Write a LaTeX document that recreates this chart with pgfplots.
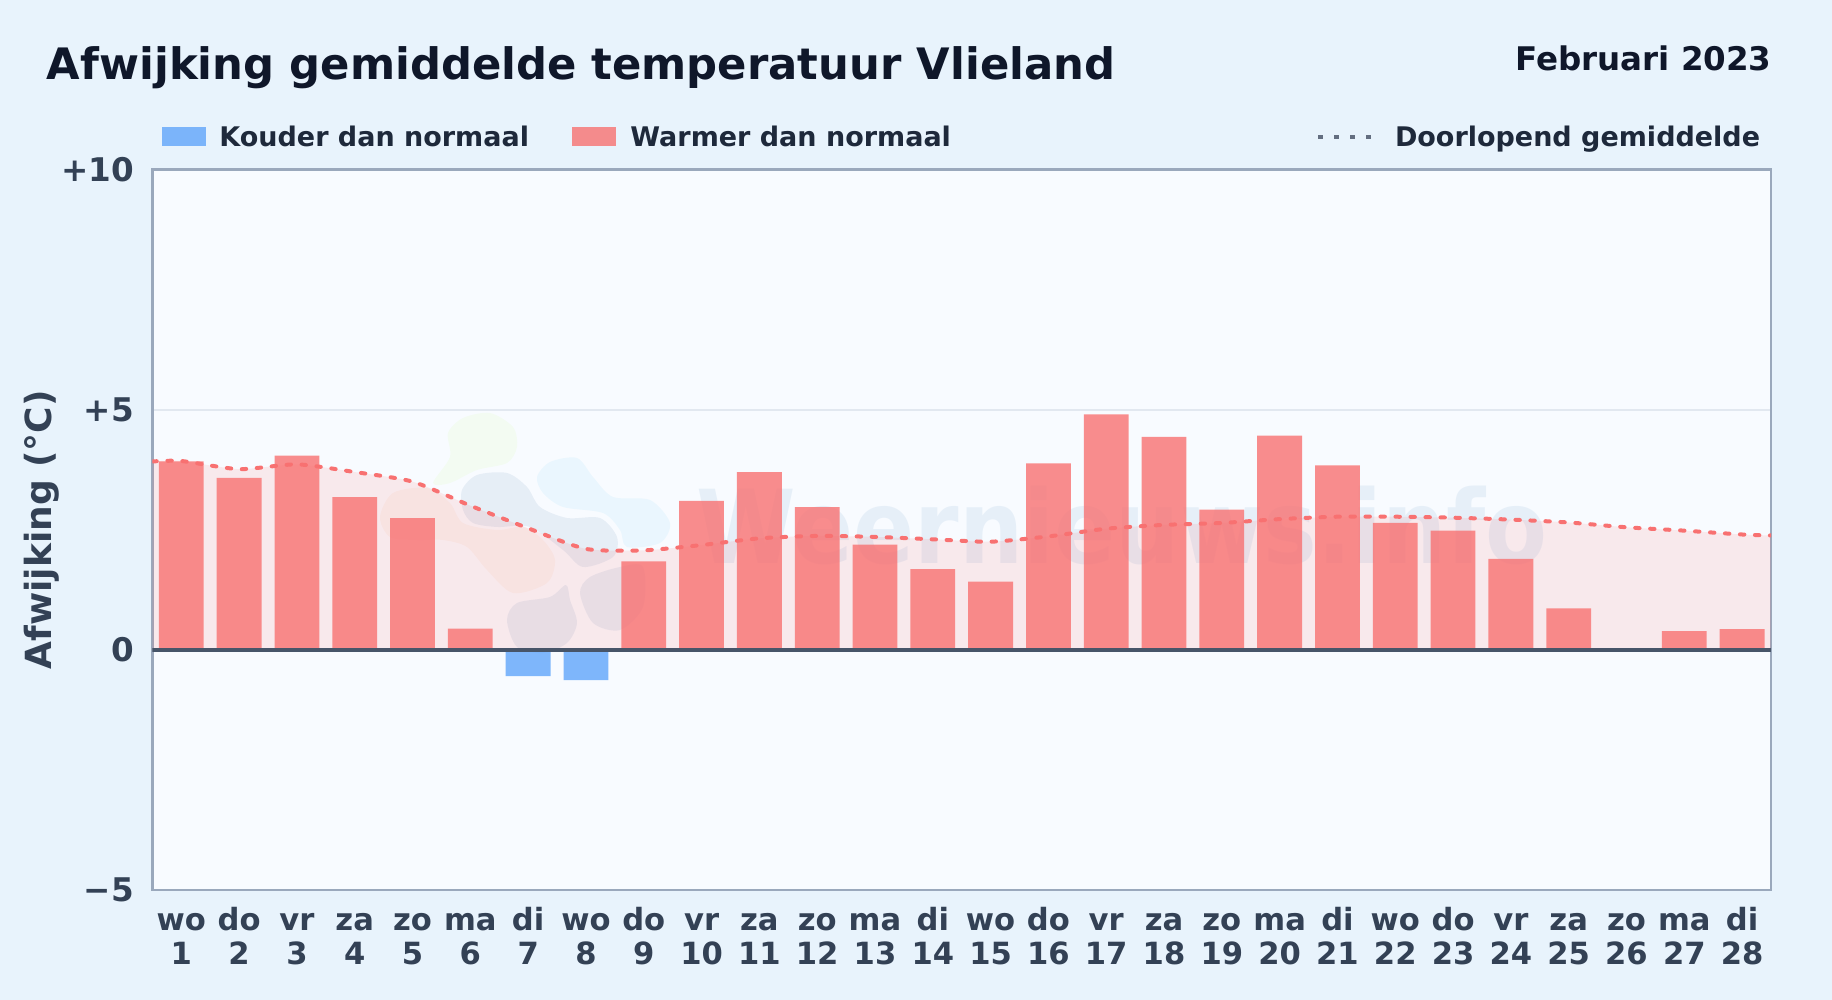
\documentclass[border=0pt]{standalone}
\usepackage{fontspec}
\setmainfont{DejaVu Sans}
\newfontfamily\wmfont[FakeStretch=0.885]{DejaVu Sans}
\usepackage{pgfplots}
\usepackage{pgfplotstable}
\pgfplotsset{compat=1.18}

\definecolor{pagebg}{HTML}{E8F3FC}
\definecolor{plotbg}{HTML}{F8FBFF}
\definecolor{titlecol}{HTML}{0F172A}
\definecolor{legendcol}{HTML}{1E293B}
\definecolor{tickcol}{HTML}{334155}
\definecolor{framecol}{HTML}{9AA8BC}
\definecolor{zerocol}{HTML}{475569}
\definecolor{gridcol}{HTML}{E2E8F0}
\definecolor{warm}{HTML}{F87171}
\definecolor{cold}{HTML}{60A5FA}
\definecolor{wmnavy}{HTML}{3A6EA5}
\definecolor{wmsky}{HTML}{38BDF8}
\definecolor{wmtext}{HTML}{3A7CBC}

\pgfplotstableread{
x y
1 3.92
2 3.58
3 4.04
4 3.18
5 2.74
6 0.44
9 1.84
10 3.10
11 3.70
12 2.97
13 2.19
14 1.68
15 1.42
16 3.88
17 4.90
18 4.43
19 2.92
20 4.46
21 3.84
22 2.64
23 2.48
24 1.89
25 0.86
26 0
27 0.39
28 0.43
}\warmdays

\pgfplotstableread{
x y
7 -0.55
8 -0.63
}\colddays

\pgfplotstableread{
x y
0.5 3.92
1 3.93
2 3.76
3 3.86
4 3.70
5 3.50
6 3.00
7 2.53
8 2.10
9 2.07
10 2.18
11 2.32
12 2.37
13 2.35
14 2.30
15 2.25
16 2.36
17 2.52
18 2.60
19 2.64
20 2.72
21 2.77
22 2.77
23 2.75
24 2.71
25 2.65
26 2.55
27 2.48
28 2.40
28.5 2.38
}\runmean

\newcommand{\bfsize}[1]{\fontsize{#1}{#1}\selectfont\bfseries}
\newcommand{\dl}[2]{\rule{0pt}{11.7pt}#1\\#2}

\begin{document}
\begin{tikzpicture}
\useasboundingbox (0,0) rectangle (916pt,500pt);
\fill[pagebg] (0,0) rectangle (916pt,500pt);

% everything here in reference pixels, origin top left
\begin{scope}[x=0.5pt,y=-0.5pt,yshift=500pt]
  \fill[plotbg] (152.4,169.4) rectangle (1771,890);
  % watermark logo and name
  \fill[green!40!yellow,opacity=.05] plot[smooth cycle] coordinates {(448,433)(463,418)(490,413)(513,427)(517,447)(507,463)(477,470)(450,483)(433,483)(450,457)};
  \fill[orange,opacity=.05] plot[smooth cycle] coordinates {(443,540)(467,547)(487,570)(513,593)(547,583)(555,560)(543,540)(523,527)(497,530)(463,523)(450,503)(427,488)(393,493)(380,517)(390,537)(417,540)};
  \fill[wmnavy,opacity=.09] plot[smooth cycle] coordinates {(462,490)(477,475)(507,473)(527,487)(540,507)(567,518)(600,518)(617,537)(613,557)(583,567)(563,550)(530,527)(497,527)(473,523)(463,510)};
  \fill[wmsky,opacity=.07] plot[smooth cycle] coordinates {(537,477)(550,462)(577,458)(593,477)(613,497)(650,500)(670,523)(660,543)(627,547)(620,530)(603,513)(563,507)(543,493)};
  \fill[wmnavy,opacity=.09] plot[smooth cycle] coordinates {(507,620)(517,603)(550,597)(566,585)(570,600)(577,623)(567,643)(543,653)(517,647)};
  \fill[wmnavy,opacity=.09] plot[smooth cycle] coordinates {(580,593)(590,577)(620,567)(643,567)(643,607)(620,630)(593,623)};
  \node[text=wmtext,opacity=.09,font=\wmfont\bfsize{51},anchor=base] at (1122,564) {Weernieuws.info};
  % title block
  \node[anchor=base west,inner sep=0pt,text=titlecol,font=\bfsize{21.66}] at (46.5,80) {Afwijking gemiddelde temperatuur Vlieland};
  \node[anchor=base east,inner sep=0pt,text=titlecol,font=\bfsize{16.26}] at (1772,71) {Februari 2023};
  % legend row
  \fill[cold,opacity=.8] (161.5,127) rectangle (205.5,146);
  \node[anchor=base west,inner sep=0pt,text=legendcol,font=\bfsize{13.5}] at (219,146.5) {Kouder dan normaal};
  \fill[warm,opacity=.8] (572,127) rectangle (616,146);
  \node[anchor=base west,inner sep=0pt,text=legendcol,font=\bfsize{13.5}] at (630,146.5) {Warmer dan normaal};
  \draw[zerocol!85,line width=2.2pt,dash pattern=on 2.5pt off 5.5pt] (1318,137) -- (1376,137);
  \node[anchor=base east,inner sep=0pt,text=legendcol,font=\bfsize{13.5}] at (1760.5,146.5) {Doorlopend gemiddelde};
\end{scope}

\begin{axis}[
    at={(76.2pt,55pt)},
    anchor=south west,
    scale only axis,
    width=809.3pt,
    height=360.3pt,
    xmin=0.5, xmax=28.5,
    ymin=-5, ymax=10,
    xtick={1,...,28},
    xticklabels={\dl{wo}{1},\dl{do}{2},\dl{vr}{3},\dl{za}{4},\dl{zo}{5},\dl{ma}{6},\dl{di}{7},\dl{wo}{8},\dl{do}{9},\dl{vr}{10},\dl{za}{11},\dl{zo}{12},\dl{ma}{13},\dl{di}{14},\dl{wo}{15},\dl{do}{16},\dl{vr}{17},\dl{za}{18},\dl{zo}{19},\dl{ma}{20},\dl{di}{21},\dl{wo}{22},\dl{do}{23},\dl{vr}{24},\dl{za}{25},\dl{zo}{26},\dl{ma}{27},\dl{di}{28}},
    ytick={-5,0,5,10},
    yticklabels={−5,0,+5,+10},
    major tick length=0pt,
    xticklabel style={align=center,text=tickcol,inner sep=0pt,yshift=-8.5pt,font=\fontsize{15.3}{17}\selectfont\bfseries},
    yticklabel style={text=tickcol,inner sep=0pt,xshift=-9pt,font=\bfsize{16.3}},
    ylabel={Afwijking (°C)},
    every axis y label/.style={at={(axis description cs:-0.0685,0.5)},rotate=90,anchor=center,text=tickcol,font=\bfsize{18}},
    ymajorgrids=true,
    grid style={gridcol,line width=1pt},
    axis line style={framecol,line width=1.4pt},
]
% shaded area under the running mean
\addplot[draw=none,fill=warm,fill opacity=.13,smooth,tension=.4] table[x=x,y=y] {\runmean} \closedcycle;
% daily deviations
\addplot[ybar,bar width=22.4pt,bar shift=0pt,draw=none,fill=warm,fill opacity=.8] table[x=x,y=y] {\warmdays};
\addplot[ybar,bar width=22.4pt,bar shift=0pt,draw=none,fill=cold,fill opacity=.8] table[x=x,y=y] {\colddays};
% running mean
\addplot[warm,line width=2pt,line cap=round,dash pattern=on 2.2pt off 5.3pt,smooth,tension=.4] table[x=x,y=y] {\runmean};
% zero line
\addplot[zerocol,line width=2pt] coordinates {(0.5,0) (28.5,0)};
\end{axis}
\end{tikzpicture}
\end{document}
